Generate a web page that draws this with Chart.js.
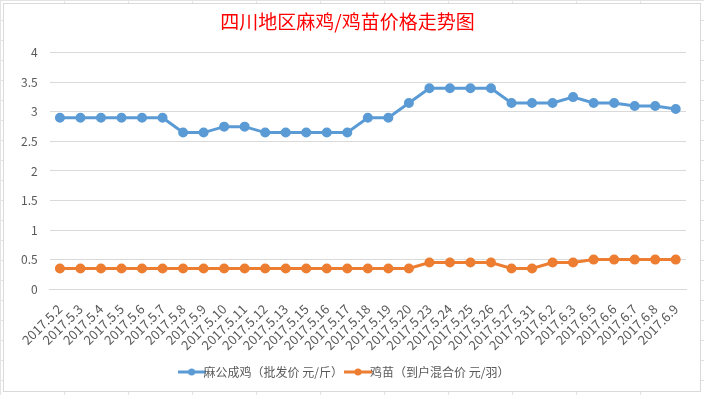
<!DOCTYPE html>
<html>
<head>
<meta charset="utf-8">
<script src="https://cdn.jsdelivr.net/npm/chart.js@4"></script>
<style>
  html, body { margin: 0; padding: 0; background: #fff; }
  body {
    position: relative; width: 704px; height: 395px; overflow: hidden;
    background-image:
      linear-gradient(to right, #e3e3e3 1px, transparent 1px),
      linear-gradient(to bottom, #e3e3e3 1px, transparent 1px);
    background-size: 64px 20px;
  }
  #frame {
    position: absolute; left: 3px; top: 3px; width: 696px; height: 387px;
    background: #fff; border: 1px solid #d9d9d9;
  }
  #priceChart { position: absolute; left: 0; top: 0; }
</style>
</head>
<body>
<div id="frame"></div>
<canvas id="priceChart" width="704" height="395"></canvas>
<script>
// 日期
const labels = ['2017.5.2', '2017.5.3', '2017.5.4', '2017.5.5', '2017.5.6', '2017.5.7', '2017.5.8',
  '2017.5.9', '2017.5.10', '2017.5.11', '2017.5.12', '2017.5.13', '2017.5.15', '2017.5.16',
  '2017.5.17', '2017.5.18', '2017.5.19', '2017.5.20', '2017.5.23', '2017.5.24', '2017.5.25',
  '2017.5.26', '2017.5.27', '2017.5.31', '2017.6.2', '2017.6.3', '2017.6.5', '2017.6.6',
  '2017.6.7', '2017.6.8', '2017.6.9'];

// 麻公成鸡（批发价 元/斤）
const chickenPrice = [2.9, 2.9, 2.9, 2.9, 2.9, 2.9, 2.65, 2.65, 2.75, 2.75, 2.65, 2.65, 2.65, 2.65,
  2.65, 2.9, 2.9, 3.15, 3.4, 3.4, 3.4, 3.4, 3.15, 3.15, 3.15, 3.25, 3.15, 3.15, 3.1, 3.1, 3.05];

// 鸡苗（到户混合价 元/羽）
const chickPrice = [0.35, 0.35, 0.35, 0.35, 0.35, 0.35, 0.35, 0.35, 0.35, 0.35, 0.35, 0.35, 0.35, 0.35,
  0.35, 0.35, 0.35, 0.35, 0.45, 0.45, 0.45, 0.45, 0.35, 0.35, 0.45, 0.45, 0.5, 0.5, 0.5, 0.5, 0.5];

const seriesNames = ['麻公成鸡（批发价 元/斤）', '鸡苗（到户混合价 元/羽）'];
const seriesColors = ['#5B9BD5', '#ED7D31'];

// 图例里的小线段+圆点
function legendMark(color) {
  const c = document.createElement('canvas');
  c.width = 28; c.height = 8;
  const g = c.getContext('2d');
  g.strokeStyle = color; g.lineWidth = 3;
  g.beginPath(); g.moveTo(0, 4); g.lineTo(28, 4); g.stroke();
  g.fillStyle = color;
  g.beginPath(); g.arc(14, 4, 3.5, 0, Math.PI * 2); g.fill();
  return c;
}

const fontFamily = '"Noto Sans CJK SC", "Noto Sans", sans-serif';

const ctx = document.getElementById('priceChart').getContext('2d');
new Chart(ctx, {
  type: 'line',
  data: {
    labels: labels,
    datasets: [chickenPrice, chickPrice].map((d, i) => ({
      label: seriesNames[i],
      data: d,
      borderColor: seriesColors[i],
      backgroundColor: seriesColors[i],
      borderWidth: 3,
      pointRadius: 3.5,
      pointHoverRadius: 3.5,
      tension: 0
    }))
  },
  options: {
    responsive: false,
    animation: false,
    devicePixelRatio: 1,
    layout: { padding: { left: 9, right: 18, top: 4, bottom: 7 } },
    plugins: {
      title: {
        display: true,
        text: '四川地区麻鸡/鸡苗价格走势图',
        color: '#FF0000',
        font: { family: fontFamily, size: 19, weight: 'normal' },
        padding: { top: 6, bottom: 20 }
      },
      legend: {
        position: 'bottom',
        labels: {
          color: '#595959',
          font: { family: fontFamily, size: 12 },
          usePointStyle: true,
          padding: 9,
          generateLabels: chart => chart.data.datasets.map((ds, i) => ({
            text: ds.label,
            fontColor: '#595959',
            pointStyle: legendMark(seriesColors[i]),
            datasetIndex: i,
            lineWidth: 0,
            strokeStyle: 'transparent',
            fillStyle: seriesColors[i]
          }))
        }
      },
      tooltip: { enabled: false }
    },
    scales: {
      x: {
        offset: true,
        grid: { display: false },
        border: { color: '#d9d9d9' },
        ticks: {
          color: '#595959',
          font: { family: fontFamily, size: 13 },
          autoSkip: false,
          minRotation: 45,
          maxRotation: 45,
          padding: 4
        }
      },
      y: {
        min: 0,
        max: 4,
        grid: { color: '#d9d9d9', drawTicks: false },
        border: { display: false },
        ticks: {
          stepSize: 0.5,
          color: '#595959',
          font: { family: fontFamily, size: 12 },
          padding: 12,
          callback: v => String(v)
        }
      }
    }
  }
});
</script>
</body>
</html>
